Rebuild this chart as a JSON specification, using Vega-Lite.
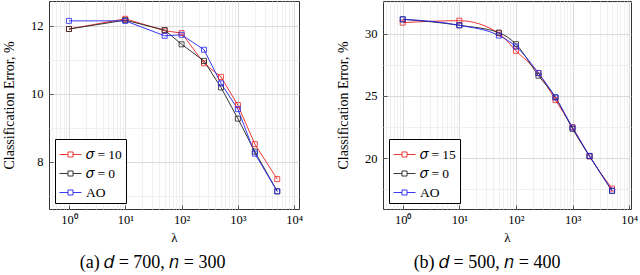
{
  "$schema": "https://vega.github.io/schema/vega-lite/v6.json",
  "padding": {"left": 2, "top": 0, "right": 0, "bottom": 0},
  "datasets": {
    "d": [
      {"panel": "a", "series": "𝜎 = 10", "lambda": 1, "err": 11.91},
      {"panel": "a", "series": "𝜎 = 10", "lambda": 10, "err": 12.21},
      {"panel": "a", "series": "𝜎 = 10", "lambda": 50, "err": 11.86},
      {"panel": "a", "series": "𝜎 = 10", "lambda": 100, "err": 11.79},
      {"panel": "a", "series": "𝜎 = 10", "lambda": 250, "err": 10.9},
      {"panel": "a", "series": "𝜎 = 10", "lambda": 500, "err": 10.5},
      {"panel": "a", "series": "𝜎 = 10", "lambda": 1000, "err": 9.67},
      {"panel": "a", "series": "𝜎 = 10", "lambda": 2000, "err": 8.52},
      {"panel": "a", "series": "𝜎 = 10", "lambda": 5000, "err": 7.49},
      {"panel": "a", "series": "𝜎 = 0", "lambda": 1, "err": 11.91},
      {"panel": "a", "series": "𝜎 = 0", "lambda": 10, "err": 12.17},
      {"panel": "a", "series": "𝜎 = 0", "lambda": 50, "err": 11.88},
      {"panel": "a", "series": "𝜎 = 0", "lambda": 100, "err": 11.46},
      {"panel": "a", "series": "𝜎 = 0", "lambda": 250, "err": 10.97},
      {"panel": "a", "series": "𝜎 = 0", "lambda": 500, "err": 10.19},
      {"panel": "a", "series": "𝜎 = 0", "lambda": 1000, "err": 9.27},
      {"panel": "a", "series": "𝜎 = 0", "lambda": 2000, "err": 8.3},
      {"panel": "a", "series": "𝜎 = 0", "lambda": 5000, "err": 7.13},
      {"panel": "a", "series": "AO", "lambda": 1, "err": 12.15},
      {"panel": "a", "series": "AO", "lambda": 10, "err": 12.15},
      {"panel": "a", "series": "AO", "lambda": 50, "err": 11.71},
      {"panel": "a", "series": "AO", "lambda": 100, "err": 11.74},
      {"panel": "a", "series": "AO", "lambda": 250, "err": 11.3},
      {"panel": "a", "series": "AO", "lambda": 500, "err": 10.31},
      {"panel": "a", "series": "AO", "lambda": 1000, "err": 9.55},
      {"panel": "a", "series": "AO", "lambda": 2000, "err": 8.24},
      {"panel": "a", "series": "AO", "lambda": 5000, "err": 7.13},
      {"panel": "b", "series": "𝜎 = 15", "lambda": 1, "err": 30.88},
      {"panel": "b", "series": "𝜎 = 15", "lambda": 10, "err": 31.04},
      {"panel": "b", "series": "𝜎 = 15", "lambda": 50, "err": 30.03},
      {"panel": "b", "series": "𝜎 = 15", "lambda": 100, "err": 28.62},
      {"panel": "b", "series": "𝜎 = 15", "lambda": 250, "err": 26.83},
      {"panel": "b", "series": "𝜎 = 15", "lambda": 500, "err": 24.66},
      {"panel": "b", "series": "𝜎 = 15", "lambda": 1000, "err": 22.48},
      {"panel": "b", "series": "𝜎 = 15", "lambda": 2000, "err": 20.14},
      {"panel": "b", "series": "𝜎 = 15", "lambda": 5000, "err": 17.55},
      {"panel": "b", "series": "𝜎 = 0", "lambda": 1, "err": 31.15},
      {"panel": "b", "series": "𝜎 = 0", "lambda": 10, "err": 30.67},
      {"panel": "b", "series": "𝜎 = 0", "lambda": 50, "err": 30.08},
      {"panel": "b", "series": "𝜎 = 0", "lambda": 100, "err": 29.15},
      {"panel": "b", "series": "𝜎 = 0", "lambda": 250, "err": 26.62},
      {"panel": "b", "series": "𝜎 = 0", "lambda": 500, "err": 24.88},
      {"panel": "b", "series": "𝜎 = 0", "lambda": 1000, "err": 22.35},
      {"panel": "b", "series": "𝜎 = 0", "lambda": 2000, "err": 20.15},
      {"panel": "b", "series": "𝜎 = 0", "lambda": 5000, "err": 17.36},
      {"panel": "b", "series": "AO", "lambda": 1, "err": 31.15},
      {"panel": "b", "series": "AO", "lambda": 10, "err": 30.67},
      {"panel": "b", "series": "AO", "lambda": 50, "err": 29.84},
      {"panel": "b", "series": "AO", "lambda": 100, "err": 28.96},
      {"panel": "b", "series": "AO", "lambda": 250, "err": 26.83},
      {"panel": "b", "series": "AO", "lambda": 500, "err": 24.88},
      {"panel": "b", "series": "AO", "lambda": 1000, "err": 22.45},
      {"panel": "b", "series": "AO", "lambda": 2000, "err": 20.18},
      {"panel": "b", "series": "AO", "lambda": 5000, "err": 17.38}
    ]
  },
  "config": {
    "view": {"stroke": "#333333", "strokeWidth": 1},
    "font": "Liberation Serif",
    "axis": {
      "labelFont": "Liberation Serif", "labelFontSize": 12.5, "labelColor": "#000000",
      "titleFont": "Liberation Serif", "titleFontWeight": "normal", "titleColor": "#000000",
      "domain": false, "tickColor": "#555555", "gridColor": "#d2d2d2", "gridWidth": 0.8
    },
    "legend": {
      "orient": "bottom-left", "offset": 6, "title": null,
      "strokeColor": "#000000", "fillColor": "#ffffff", "padding": 4,
      "labelFont": "Liberation Serif", "labelFontSize": 13.5, "labelColor": "#000000",
      "symbolType": "M-1,0L-0.23,0M0.23,0L1,0M-0.23,-0.23L0.23,-0.23L0.23,0.23L-0.23,0.23Z",
      "symbolSize": 484, "symbolStrokeWidth": 0.9, "symbolFillColor": "#ffffff",
      "labelOffset": 4, "rowPadding": 1
    },
    "title": {"font": "Liberation Serif", "fontWeight": "normal", "color": "#000000"}
  },
  "spacing": 84,
  "bounds": "flush",
  "resolve": {
    "scale": {"x": "independent", "y": "independent", "color": "independent"},
    "legend": {"color": "independent"}
  },
  "hconcat": [
    {
      "width": 250, "height": 208,
      "title": {"text": "(a) 𝑑 = 700, 𝑛 = 300", "orient": "bottom", "anchor": "middle", "frame": "bounds", "fontSize": 18, "offset": 9},
      "data": {"name": "d"},
      "transform": [{"filter": "datum.panel == 'a'"}],
      "resolve": {"axis": {"x": "independent", "y": "independent"}},
      "layer": [
        {
          "mark": {"type": "line", "strokeWidth": 0.9},
          "encoding": {
            "x": {"field": "lambda", "type": "quantitative",
              "scale": {"type": "log", "domain": [0.442, 12170], "nice": false},
              "axis": {"values": [1, 10, 100, 1000, 10000], "grid": true, "ticks": true, "tickSize": -4, "labelPadding": 8,
                "labelExpr": "'10' + ['⁰','¹','²','³','⁴'][round(log(datum.value)/LN10)]",
                "title": "λ", "titleFontSize": 13, "titlePadding": 6}},
            "y": {"field": "err", "type": "quantitative",
              "scale": {"domain": [6.61, 12.735], "nice": false, "zero": false},
              "axis": {"values": [8, 10, 12], "grid": true, "ticks": true, "tickSize": -4, "labelPadding": 10,
                "title": "Classification Error, %", "titleFontSize": 14, "titlePadding": 14}},
            "color": {"field": "series", "type": "nominal",
              "scale": {"domain": ["𝜎 = 10", "𝜎 = 0", "AO"], "range": ["#ee2222", "#222222", "#2222ee"]}}
          }
        },
        {
          "mark": {"type": "point", "shape": "square", "filled": false, "size": 25, "strokeWidth": 0.8, "opacity": 1},
          "encoding": {
            "x": {"field": "lambda", "type": "quantitative",
              "axis": {"orient": "top", "values": [0.5, 0.6, 0.7, 0.8, 0.9, 2, 3, 4, 5, 6, 7, 8, 9, 20, 30, 40, 50, 60, 70, 80, 90, 200, 300, 400, 500, 600, 700, 800, 900, 2000, 3000, 4000, 5000, 6000, 7000, 8000, 9000],
                "grid": true, "gridColor": "#ececec", "labels": false, "ticks": false, "title": null}},
            "y": {"field": "err", "type": "quantitative",
              "axis": {"orient": "right", "values": [7, 9, 11], "grid": true, "gridColor": "#ececec", "labels": false, "ticks": false, "title": null}},
            "color": {"field": "series", "type": "nominal"}
          }
        }
      ]
    },
    {
      "width": 248, "height": 208,
      "title": {"text": "(b) 𝑑 = 500, 𝑛 = 400", "orient": "bottom", "anchor": "middle", "frame": "bounds", "fontSize": 18, "offset": 9},
      "data": {"name": "d"},
      "transform": [{"filter": "datum.panel == 'b'"}],
      "resolve": {"axis": {"x": "independent", "y": "independent"}},
      "layer": [
        {
          "mark": {"type": "line", "strokeWidth": 0.9, "interpolate": "monotone"},
          "encoding": {
            "x": {"field": "lambda", "type": "quantitative",
              "scale": {"type": "log", "domain": [0.448, 10800], "nice": false},
              "axis": {"values": [1, 10, 100, 1000, 10000], "grid": true, "ticks": true, "tickSize": -4, "labelPadding": 8,
                "labelExpr": "'10' + ['⁰','¹','²','³','⁴'][round(log(datum.value)/LN10)]",
                "title": "λ", "titleFontSize": 13, "titlePadding": 6}},
            "y": {"field": "err", "type": "quantitative",
              "scale": {"domain": [15.91, 32.62], "nice": false, "zero": false},
              "axis": {"values": [20, 25, 30], "grid": true, "ticks": true, "tickSize": -4, "labelPadding": 10,
                "title": "Classification Error, %", "titleFontSize": 14, "titlePadding": 14}},
            "color": {"field": "series", "type": "nominal",
              "scale": {"domain": ["𝜎 = 15", "𝜎 = 0", "AO"], "range": ["#ee2222", "#222222", "#2222ee"]}}
          }
        },
        {
          "mark": {"type": "point", "shape": "square", "filled": false, "size": 25, "strokeWidth": 0.8, "opacity": 1},
          "encoding": {
            "x": {"field": "lambda", "type": "quantitative",
              "axis": {"orient": "top", "values": [0.5, 0.6, 0.7, 0.8, 0.9, 2, 3, 4, 5, 6, 7, 8, 9, 20, 30, 40, 50, 60, 70, 80, 90, 200, 300, 400, 500, 600, 700, 800, 900, 2000, 3000, 4000, 5000, 6000, 7000, 8000, 9000],
                "grid": true, "gridColor": "#ececec", "labels": false, "ticks": false, "title": null}},
            "y": {"field": "err", "type": "quantitative",
              "axis": {"orient": "right", "values": [17.5, 22.5, 27.5, 32.5], "grid": true, "gridColor": "#ececec", "labels": false, "ticks": false, "title": null}},
            "color": {"field": "series", "type": "nominal"}
          }
        }
      ]
    }
  ]
}
